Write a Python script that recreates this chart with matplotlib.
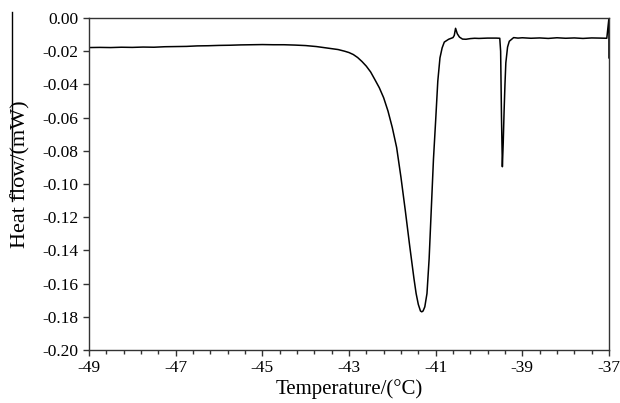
import numpy as np
import matplotlib
matplotlib.use('Agg')
import matplotlib.pyplot as plt
from matplotlib.lines import Line2D
from matplotlib.ticker import FixedLocator, FormatStrFormatter, MultipleLocator

plt.rcParams['font.family'] = ['Liberation Serif', 'DejaVu Serif']
plt.rcParams['axes.unicode_minus'] = False

# DSC trace
temperature = [
    -49.0, -48.75, -48.5, -48.25, -48.0, -47.75, -47.5, -47.25, -47.0, -46.75,
    -46.5, -46.25, -46.0, -45.75, -45.5, -45.25, -45.0, -44.75, -44.5, -44.25,
    -44.0, -43.75, -43.5, -43.25, -43.1, -43.0, -42.9, -42.8, -42.7, -42.6,
    -42.5, -42.4, -42.3, -42.2, -42.1, -42.0, -41.9, -41.8, -41.7, -41.6,
    -41.5, -41.45, -41.4, -41.35, -41.32, -41.29, -41.25, -41.2, -41.15, -41.1,
    -41.05, -41.0, -40.95, -40.9, -40.85, -40.8, -40.7, -40.6, -40.57, -40.54,
    -40.5, -40.45, -40.38, -40.3, -40.2, -40.1, -40.0, -39.8, -39.6, -39.52,
    -39.5, -39.48, -39.46, -39.44, -39.42, -39.4, -39.38, -39.34, -39.3, -39.2,
    -39.1, -39.0, -38.8, -38.6, -38.4, -38.2, -38.0, -37.8, -37.6, -37.4,
    -37.2, -37.05, -37.0, -37.0,
]
heat_flow = [
    -0.0178, -0.0177, -0.0178, -0.0176, -0.0177, -0.0175, -0.0176, -0.0173, -0.0172, -0.0171,
    -0.0168, -0.0167, -0.0165, -0.0164, -0.0162, -0.0161, -0.0160, -0.0161, -0.0161, -0.0163,
    -0.0166, -0.0172, -0.0181, -0.0190, -0.0200, -0.0208, -0.0220, -0.0238, -0.0262, -0.0290,
    -0.0325, -0.0372, -0.0420, -0.0480, -0.0560, -0.0660, -0.0780, -0.0960, -0.1160, -0.1370,
    -0.1570, -0.1660, -0.1725, -0.1765, -0.1770, -0.1765, -0.1740, -0.1660, -0.1450, -0.1150,
    -0.0850, -0.0620, -0.0380, -0.0240, -0.0180, -0.0145, -0.0128, -0.0118, -0.0105, -0.0062,
    -0.0095, -0.0115, -0.0127, -0.0128, -0.0124, -0.0122, -0.0123, -0.0121, -0.0121, -0.0122,
    -0.0200, -0.0600, -0.0896, -0.0750, -0.0560, -0.0400, -0.0270, -0.0175, -0.0140, -0.0118,
    -0.0121, -0.0119, -0.0122, -0.0120, -0.0123, -0.0119, -0.0122, -0.0120, -0.0123, -0.0120,
    -0.0121, -0.0122, 0.0, -0.024,
]

x_ticks = [-49, -47, -45, -43, -41, -39, -37]
x_minor = [-49 + 0.4 * i for i in range(31)]

fig = plt.figure(figsize=(6.2, 4.03), dpi=100, facecolor='white')
ax = fig.add_axes([0.1435, 0.1315, 0.8387, 0.8238])

ax.plot(temperature, heat_flow, color='black', lw=1.1)

ax.set_xlim(-49, -37)
ax.set_ylim(-0.20, 0.0)
ax.xaxis.set_major_locator(FixedLocator(x_ticks))
ax.xaxis.set_minor_locator(FixedLocator(x_minor))
ax.yaxis.set_major_locator(MultipleLocator(0.02))
ax.xaxis.set_major_formatter(FormatStrFormatter('%d'))
ax.yaxis.set_major_formatter(FormatStrFormatter('%.2f'))

ax.tick_params(axis='both', which='major', direction='out', length=4, width=1,
               labelsize=12.5, color='#333333')
ax.tick_params(axis='x', which='minor', direction='out', length=3, width=1, color='#333333')
for sp in ax.spines.values():
    sp.set_color('#333333')
    sp.set_linewidth(1)

ax.set_xlabel('Temperature/(\u00b0C)', fontsize=15, labelpad=2)
ax.set_ylabel('Heat flow/(mW)', fontsize=16)
ax.yaxis.set_label_coords(-0.113, 0.53)

# stray vertical stroke at the left edge of the original image
fig.add_artist(Line2D([12 / 620, 12 / 620], [1 - 12 / 403, 1 - 201 / 403],
                      transform=fig.transFigure, color='black', lw=1))

fig.savefig('out.png', dpi=100, facecolor='white')
